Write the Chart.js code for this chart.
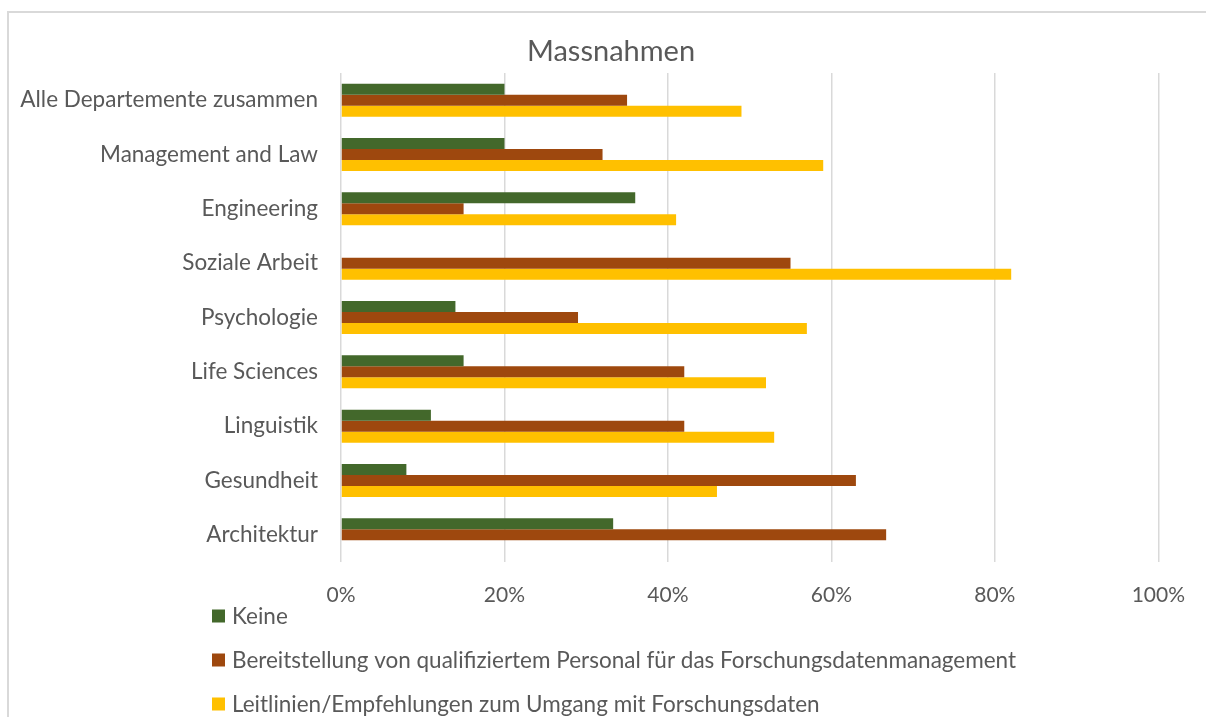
<!DOCTYPE html>
<html>
<head>
<meta charset="utf-8">
<script src="https://cdn.jsdelivr.net/npm/chart.js@4/dist/chart.umd.min.js"></script>
<style>
  html, body { margin: 0; padding: 0; background: #fff; }
  #wrap { width: 1206px; height: 717px; position: relative; }
</style>
</head>
<body>
<div id="wrap"><canvas id="massnahmen" width="1206" height="717"></canvas></div>
<script>
// categories, top to bottom
const departemente = [
  'Alle Departemente zusammen',
  'Management and Law',
  'Engineering',
  'Soziale Arbeit',
  'Psychologie',
  'Life Sciences',
  'Linguistik',
  'Gesundheit',
  'Architektur'
];

// share of answers in percent
const keine          = [20, 20, 36, 0, 14, 15, 11, 8, 33.3];
const bereitstellung = [35, 32, 15, 55, 29, 42, 42, 63, 66.7];
const leitlinien     = [49, 59, 41, 82, 57, 52, 53, 46, 0];

const seriesNames = [
  'Keine',
  'Bereitstellung von qualifiziertem Personal für das Forschungsdatenmanagement',
  'Leitlinien/Empfehlungen zum Umgang mit Forschungsdaten'
];
const seriesColors = ['#43682b', '#9e480e', '#ffc000'];

const textColor = '#595959';
const fontFamily = 'Lato, "Noto Sans", sans-serif';

// title + vertical legend + frame, drawn like the Excel chart
const excelLook = {
  id: 'excelLook',
  beforeDraw(chart) {
    const ctx = chart.ctx;
    ctx.save();
    ctx.fillStyle = '#fff';
    ctx.fillRect(0, 0, chart.width, chart.height);
    ctx.strokeStyle = '#d9d9d9';
    ctx.lineWidth = 2;
    ctx.strokeRect(8, 12, chart.width + 50, chart.height + 50);
    ctx.restore();
  },
  afterDraw(chart) {
    const ctx = chart.ctx;
    ctx.save();
    ctx.fillStyle = textColor;
    ctx.textBaseline = 'middle';
    ctx.textAlign = 'center';
    ctx.font = '29px ' + fontFamily;
    ctx.fillText('Massnahmen', 611, 52);

    ctx.textAlign = 'left';
    ctx.font = '22.5px ' + fontFamily;
    chart.data.datasets.forEach((ds, i) => {
      const y = 616 + i * 44;
      ctx.fillStyle = ds.backgroundColor;
      ctx.fillRect(212, y - 6.5, 13, 13);
      ctx.fillStyle = textColor;
      ctx.fillText(ds.label, 232, y + 1);
    });
    ctx.restore();
  }
};

new Chart(document.getElementById('massnahmen'), {
  type: 'bar',
  data: {
    labels: departemente,
    datasets: [
      { label: seriesNames[0], data: keine, backgroundColor: seriesColors[0] },
      { label: seriesNames[1], data: bereitstellung, backgroundColor: seriesColors[1] },
      { label: seriesNames[2], data: leitlinien, backgroundColor: seriesColors[2] }
    ]
  },
  options: {
    indexAxis: 'y',
    responsive: false,
    animation: false,
    devicePixelRatio: 1,
    categoryPercentage: 0.607,
    barPercentage: 1,
    layout: { padding: { top: 73, right: 47, bottom: 0, left: 0 } },
    plugins: {
      legend: { display: false },
      title: { display: false },
      tooltip: { enabled: false }
    },
    scales: {
      x: {
        min: 0,
        max: 100,
        ticks: {
          stepSize: 20,
          padding: 21,
          color: textColor,
          font: { family: fontFamily, size: 21 },
          callback: v => v + '%'
        },
        grid: { color: '#d9d9d9', lineWidth: 1.5, drawTicks: false },
        border: { display: false },
        afterFit(scale) { scale.height = 155; }
      },
      y: {
        ticks: {
          padding: 23,
          color: textColor,
          font: { family: fontFamily, size: 22.5 }
        },
        grid: { display: false, drawTicks: false },
        border: { display: false },
        afterFit(scale) { scale.width = 341; }
      }
    }
  },
  plugins: [excelLook]
});
</script>
</body>
</html>
